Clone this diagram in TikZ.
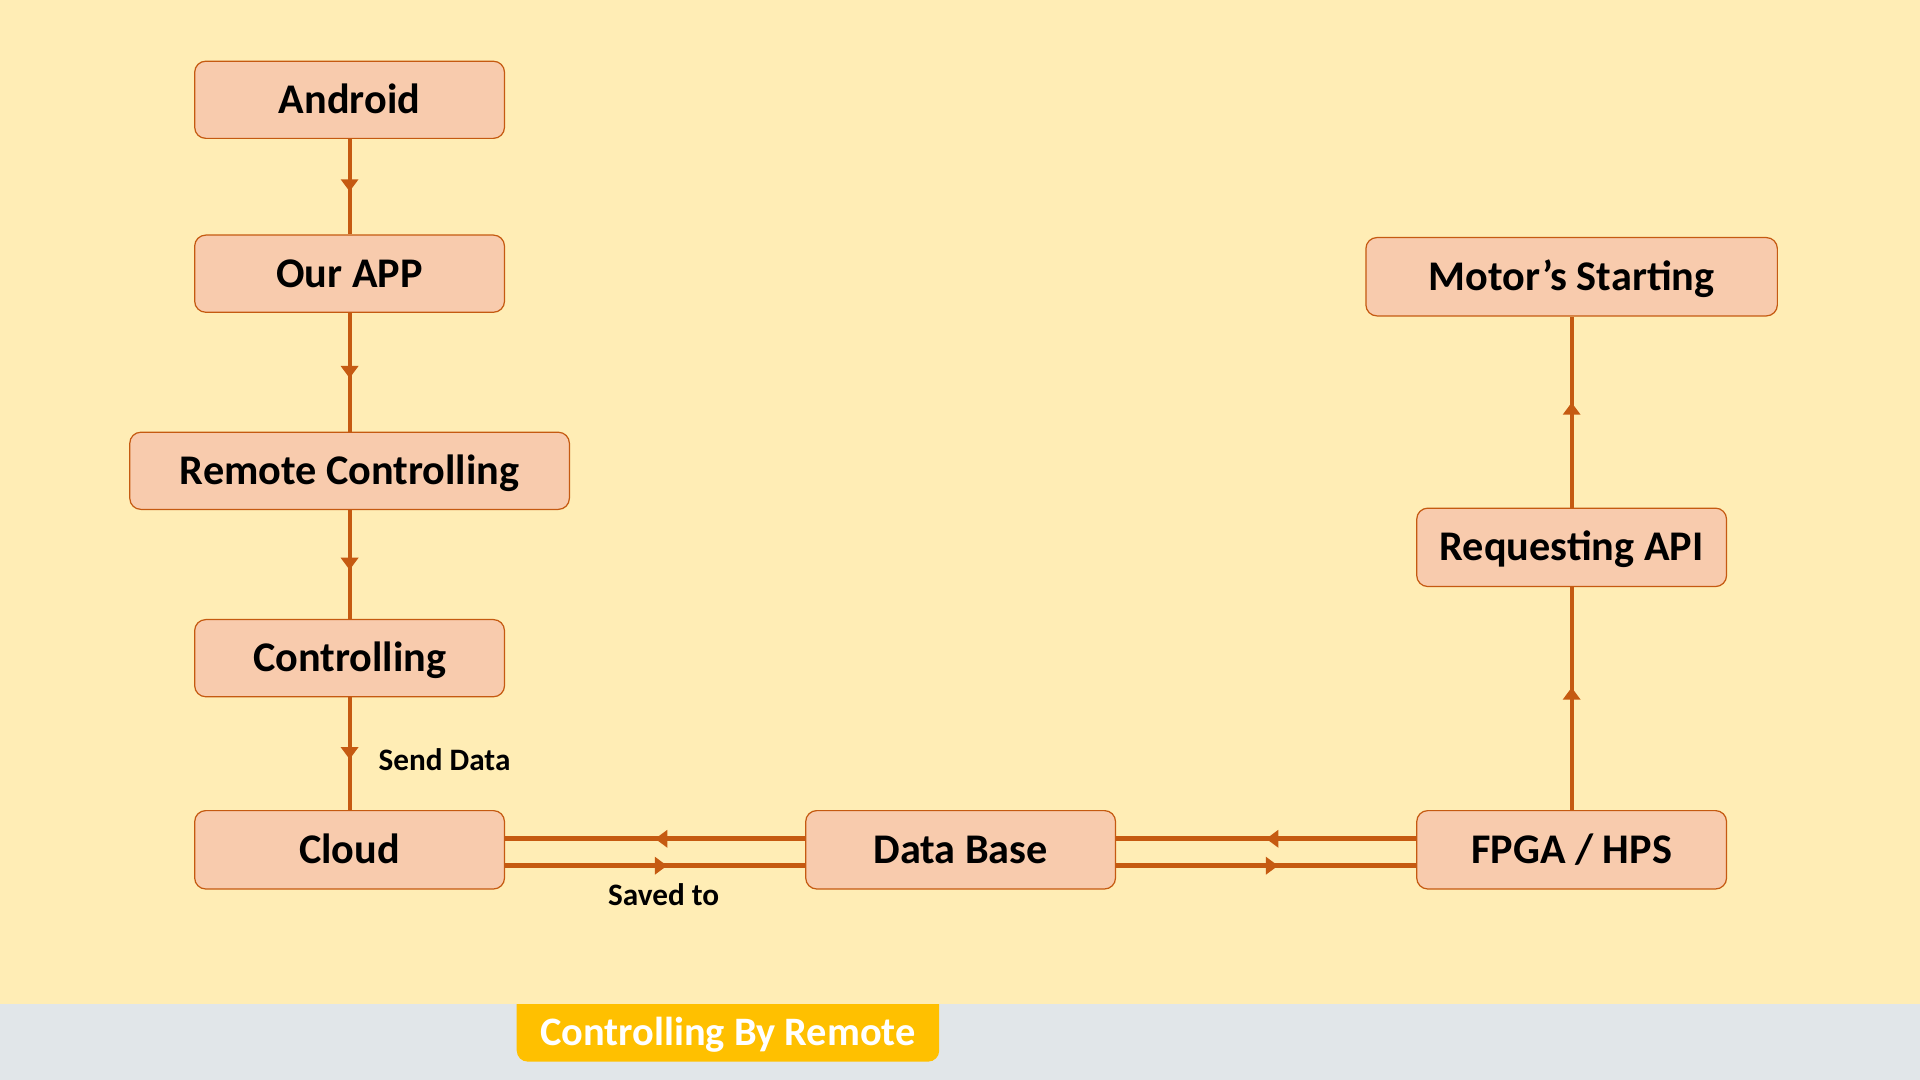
\documentclass[tikz,border=0pt]{standalone}
\usepackage{fontspec}
\setmainfont{Carlito}
\usetikzlibrary{arrows.meta,decorations.markings}
\definecolor{bgc}{HTML}{FFEDB5}
\definecolor{graybar}{HTML}{E1E6E9}
\definecolor{boxfill}{HTML}{F8CBAD}
\definecolor{edgec}{HTML}{C55A11}
\definecolor{gold}{HTML}{FFC000}
\begin{document}
\begin{tikzpicture}[x=1pt,y=-1pt,
  box/.style={draw=edgec, line width=1pt, fill=boxfill, rounded corners=9pt,
    minimum width=253pt, minimum height=63pt, inner sep=0pt,
    font=\bfseries\fontsize{34.5}{40}\selectfont, text height=22pt, text depth=0pt},
  lbl/.style={font=\bfseries\fontsize{25.5}{30}\selectfont, inner sep=0pt, text height=16.5pt, text depth=0pt},
  flow/.style={draw=edgec, line width=3.3pt, postaction={decorate},
    decoration={markings, mark=at position #1 with {\arrow[edgec]{Triangle[width=14pt,length=10pt]}}}},
  flow/.default=0.55,
  hflow/.style={flow=#1, line width=4pt},
  hflow/.default=0.5
]
\useasboundingbox (0,0) rectangle (1568,882);
\fill[graybar] (0,0) rectangle (1568,882);
\fill[gold, rounded corners=9pt] (422,790) rectangle (767,867);
\fill[bgc] (0,0) rectangle (1568,820);
\node[font=\bfseries\fontsize{33}{38}\selectfont, text=white, inner sep=0pt, text height=21pt, text depth=0pt] (title) at (594.5,843) {Controlling By Remote};

\node[box] (and) at (285.5,81.5) {Android};
\node[box] (app) at (285.5,223.5) {Our APP};
\node[box, minimum width=359pt] (rc) at (285.5,384.5) {Remote Controlling};
\node[box] (ctl) at (285.5,537.5) {Controlling};
\node[box, minimum height=64pt] (cloud) at (285.5,694) {Cloud};
\node[box, minimum height=64pt] (db) at (784.5,694) {Data Base};
\node[box, minimum height=64pt] (fpga) at (1283.5,694) {FPGA / HPS};
\node[box, minimum height=64pt] (api) at (1283.5,447) {Requesting API};
\node[box, minimum width=336pt, minimum height=64pt] (motor) at (1283.5,226) {Motor’s Starting};

\draw[flow] (and.south) -- (app.north);
\draw[flow] (app.south) -- (rc.north);
\draw[flow] (rc.south) -- (ctl.north);
\draw[flow] (ctl.south) -- (cloud.north);
\draw[flow] (fpga.north) -- (api.south);
\draw[flow] (api.north) -- (motor.south);

\draw[hflow] ([yshift=9pt]db.west) -- ([yshift=9pt]cloud.east);
\draw[hflow=0.54] ([yshift=-13pt]cloud.east) -- ([yshift=-13pt]db.west);
\draw[hflow] ([yshift=9pt]fpga.west) -- ([yshift=9pt]db.east);
\draw[hflow=0.54] ([yshift=-13pt]db.east) -- ([yshift=-13pt]fpga.west);

\node[lbl] (send) at (363,621) {Send Data};
\node[lbl] (saved) at (542,731) {Saved to};
\end{tikzpicture}
\end{document}
